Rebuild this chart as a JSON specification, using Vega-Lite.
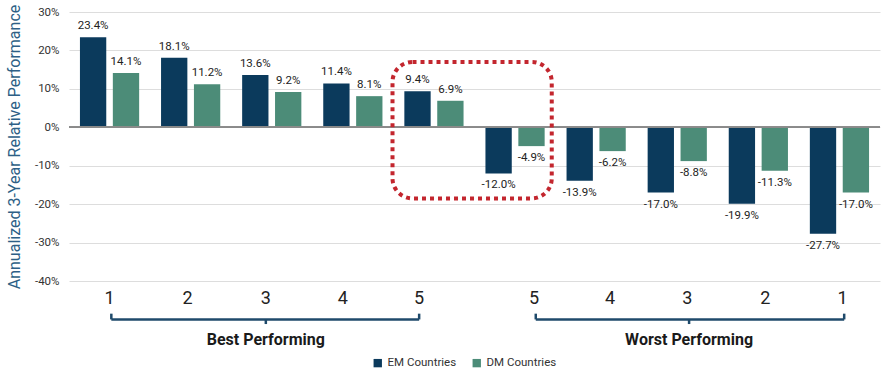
{
  "$schema": "https://vega.github.io/schema/vega-lite/v6.json",
  "width": 811,
  "height": 269,
  "autosize": {"type": "none"},
  "padding": {"left": 69, "top": 12, "right": 8, "bottom": 96},
  "config": {
    "font": "Roboto",
    "view": {"stroke": null},
    "locale": {"number": {"decimal": ".", "thousands": ",", "grouping": [3], "currency": ["$", ""], "minus": "-"}}
  },
  "data": {
    "values": [
      {"rank": "B1", "series": "EM Countries", "value": 0.234},
      {"rank": "B1", "series": "DM Countries", "value": 0.141},
      {"rank": "B2", "series": "EM Countries", "value": 0.181},
      {"rank": "B2", "series": "DM Countries", "value": 0.112},
      {"rank": "B3", "series": "EM Countries", "value": 0.136},
      {"rank": "B3", "series": "DM Countries", "value": 0.092},
      {"rank": "B4", "series": "EM Countries", "value": 0.114},
      {"rank": "B4", "series": "DM Countries", "value": 0.081},
      {"rank": "B5", "series": "EM Countries", "value": 0.094},
      {"rank": "B5", "series": "DM Countries", "value": 0.069},
      {"rank": "W5", "series": "EM Countries", "value": -0.120},
      {"rank": "W5", "series": "DM Countries", "value": -0.049},
      {"rank": "W4", "series": "EM Countries", "value": -0.139},
      {"rank": "W4", "series": "DM Countries", "value": -0.062},
      {"rank": "W3", "series": "EM Countries", "value": -0.170},
      {"rank": "W3", "series": "DM Countries", "value": -0.088},
      {"rank": "W2", "series": "EM Countries", "value": -0.199},
      {"rank": "W2", "series": "DM Countries", "value": -0.113},
      {"rank": "W1", "series": "EM Countries", "value": -0.277},
      {"rank": "W1", "series": "DM Countries", "value": -0.170}
    ]
  },
  "layer": [
    {
      "mark": {"type": "bar"},
      "encoding": {
        "x": {
          "field": "rank", "type": "nominal",
          "scale": {"domain": ["B1", "B2", "B3", "B4", "B5", "W5", "W4", "W3", "W2", "W1"], "paddingInner": 0.27, "paddingOuter": 0.135},
          "axis": {
            "title": null, "labelExpr": "substring(datum.label, 1)", "labelAngle": 0, "ticks": false, "domain": false, "grid": false,
            "labelFontSize": 18, "labelColor": "#222222", "labelPadding": 8,
            "labelOffset": {"expr": "[0, -3, -6, -10, -15, 19, 14, 10, 7, 3][indexof(['B1','B2','B3','B4','B5','W5','W4','W3','W2','W1'], datum.value)]"}
          }
        },
        "xOffset": {"field": "series", "type": "nominal", "scale": {"domain": ["EM Countries", "DM Countries"], "paddingInner": 0.2}},
        "y": {
          "field": "value", "type": "quantitative",
          "scale": {"domain": [-0.4, 0.3], "nice": false, "zero": false},
          "axis": {
            "values": [-0.4, -0.3, -0.2, -0.1, 0, 0.1, 0.2, 0.3],
            "tickCount": 8,
            "labelOverlap": false,
            "grid": true,
            "labelExpr": "round(datum.value * 100) + '%'",
            "title": "Annualized 3-Year Relative Performance",
            "titleFontSize": 16, "titleFontWeight": "normal", "titleColor": "#2d5f86", "titlePadding": 12,
            "labelFontSize": 11.5, "labelColor": "#333333", "labelPadding": 10,
            "domain": false, "ticks": false, "gridColor": "#dddddd"
          }
        },
        "color": {
          "field": "series", "type": "nominal",
          "scale": {"domain": ["EM Countries", "DM Countries"], "range": ["#0b3a5c", "#4c8c78"]},
          "legend": {"title": null, "orient": "none", "legendX": 303, "legendY": 345, "direction": "horizontal", "symbolType": "square", "symbolSize": 70, "labelFontSize": 11.5, "labelColor": "#333333", "columnPadding": 14}
        }
      }
    },
    {
      "transform": [{"filter": "datum.value >= 0"}],
      "mark": {"type": "text", "baseline": "bottom", "dy": -6, "fontSize": 11.5, "color": "#222222"},
      "encoding": {
        "x": {"field": "rank", "type": "nominal"},
        "xOffset": {"field": "series", "type": "nominal"},
        "y": {"field": "value", "type": "quantitative"},
        "text": {"field": "value", "type": "quantitative", "format": ".1%"}
      }
    },
    {
      "transform": [{"filter": "datum.value < 0"}],
      "mark": {"type": "text", "baseline": "top", "dy": 6, "fontSize": 11.5, "color": "#222222"},
      "encoding": {
        "x": {"field": "rank", "type": "nominal"},
        "xOffset": {"field": "series", "type": "nominal"},
        "y": {"field": "value", "type": "quantitative"},
        "text": {"field": "value", "type": "quantitative", "format": ".1%"}
      }
    },
    {
      "mark": {"type": "rule", "color": "#8a8a8a", "strokeWidth": 1.2},
      "encoding": {"y": {"datum": 0, "type": "quantitative"}}
    },
    {
      "data": {"values": [{"a": "B5", "b": "W5"}]},
      "mark": {"type": "rect", "filled": false, "stroke": "#c3262e", "strokeWidth": 4, "strokeDash": [4, 4], "cornerRadius": 20},
      "encoding": {
        "x": {"field": "a", "type": "nominal", "bandPosition": -0.2},
        "x2": {"field": "b", "bandPosition": 1.12},
        "y": {"datum": 0.17, "type": "quantitative"},
        "y2": {"datum": -0.185}
      }
    },
    {
      "data": {"values": [{"grp": "Best Performing", "a": "B1", "m": "B3", "b": "B5"}]},
      "layer": [
        {
          "mark": {"type": "rule", "color": "#1f4a6b", "strokeWidth": 2.5},
          "encoding": {
            "x": {"field": "a", "type": "nominal", "bandPosition": 0.53},
            "x2": {"field": "b", "bandPosition": 0.25},
            "y": {"datum": -0.5, "type": "quantitative"}
          }
        },
        {
          "mark": {"type": "rule", "color": "#1f4a6b", "strokeWidth": 2.5},
          "encoding": {
            "x": {"field": "a", "type": "nominal", "bandPosition": 0.53},
            "y": {"datum": -0.5, "type": "quantitative"},
            "y2": {"datum": -0.485}
          }
        },
        {
          "mark": {"type": "rule", "color": "#1f4a6b", "strokeWidth": 2.5},
          "encoding": {
            "x": {"field": "b", "type": "nominal", "bandPosition": 0.25},
            "y": {"datum": -0.5, "type": "quantitative"},
            "y2": {"datum": -0.485}
          }
        },
        {
          "mark": {"type": "rule", "color": "#1f4a6b", "strokeWidth": 2.5},
          "encoding": {
            "x": {"field": "m", "type": "nominal", "bandPosition": 0.4},
            "y": {"datum": -0.5, "type": "quantitative"},
            "y2": {"datum": -0.512}
          }
        },
        {
          "mark": {"type": "text", "fontSize": 16, "fontWeight": "bold", "color": "#1a1a1a", "baseline": "middle"},
          "encoding": {
            "x": {"field": "m", "type": "nominal", "bandPosition": 0.4},
            "y": {"datum": -0.553, "type": "quantitative"},
            "text": {"field": "grp"}
          }
        }
      ]
    },
    {
      "data": {"values": [{"grp": "Worst Performing", "a": "W5", "m": "W3", "b": "W1"}]},
      "layer": [
        {
          "mark": {"type": "rule", "color": "#1f4a6b", "strokeWidth": 2.5},
          "encoding": {
            "x": {"field": "a", "type": "nominal", "bandPosition": 0.85},
            "x2": {"field": "b", "bandPosition": 0.58},
            "y": {"datum": -0.5, "type": "quantitative"}
          }
        },
        {
          "mark": {"type": "rule", "color": "#1f4a6b", "strokeWidth": 2.5},
          "encoding": {
            "x": {"field": "a", "type": "nominal", "bandPosition": 0.85},
            "y": {"datum": -0.5, "type": "quantitative"},
            "y2": {"datum": -0.485}
          }
        },
        {
          "mark": {"type": "rule", "color": "#1f4a6b", "strokeWidth": 2.5},
          "encoding": {
            "x": {"field": "b", "type": "nominal", "bandPosition": 0.58},
            "y": {"datum": -0.5, "type": "quantitative"},
            "y2": {"datum": -0.485}
          }
        },
        {
          "mark": {"type": "rule", "color": "#1f4a6b", "strokeWidth": 2.5},
          "encoding": {
            "x": {"field": "m", "type": "nominal", "bandPosition": 0.7},
            "y": {"datum": -0.5, "type": "quantitative"},
            "y2": {"datum": -0.512}
          }
        },
        {
          "mark": {"type": "text", "fontSize": 16, "fontWeight": "bold", "color": "#1a1a1a", "baseline": "middle"},
          "encoding": {
            "x": {"field": "m", "type": "nominal", "bandPosition": 0.7},
            "y": {"datum": -0.553, "type": "quantitative"},
            "text": {"field": "grp"}
          }
        }
      ]
    }
  ]
}
